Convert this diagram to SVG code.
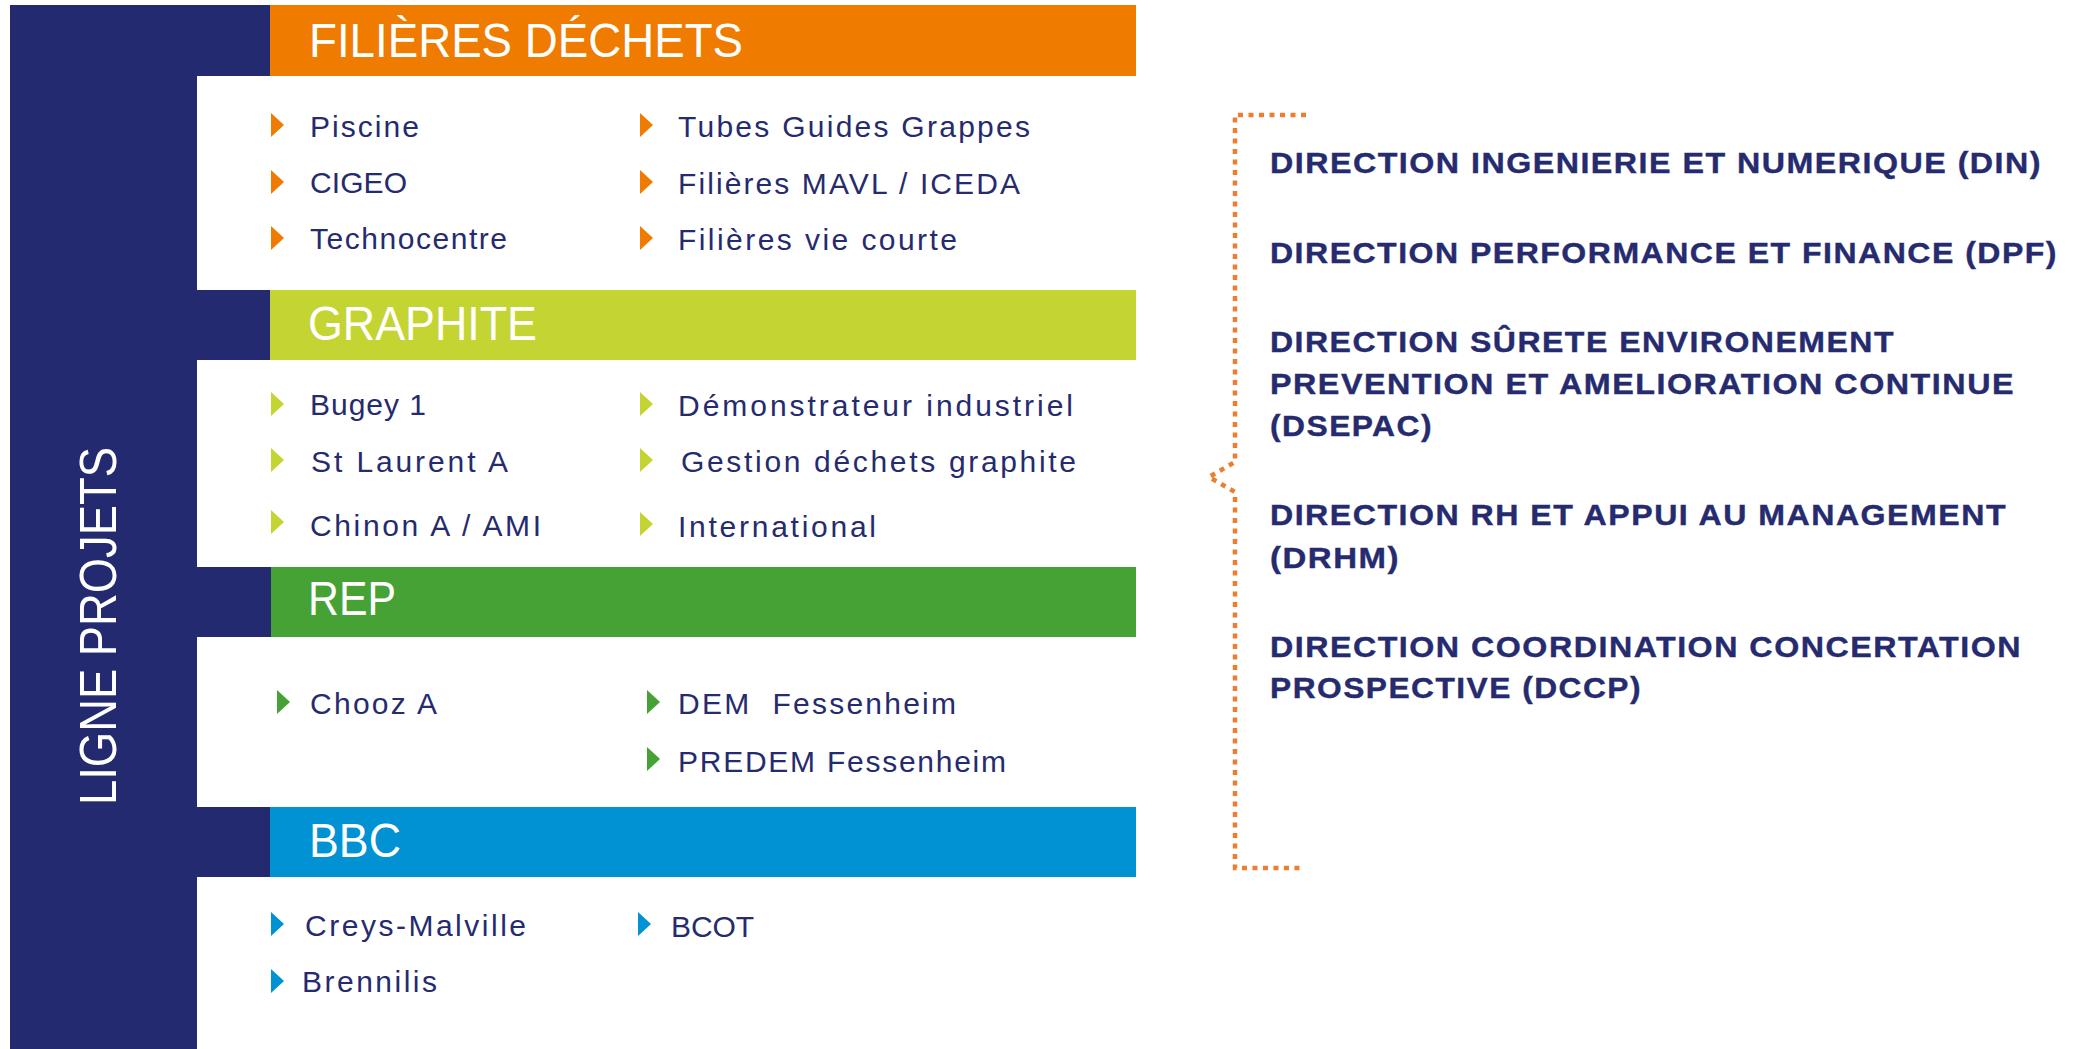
<svg xmlns="http://www.w3.org/2000/svg" xmlns:xlink="http://www.w3.org/1999/xlink" width="2075" height="1049" viewBox="0 0 2075 1049">
<defs>
<style>
.hdr{font-family:"Liberation Sans",Arial,sans-serif;font-size:48px;fill:#ffffff;}
.it{font-family:"Liberation Sans",Arial,sans-serif;font-size:30px;fill:#252B6E;}
.dir{font-family:"Liberation Sans",Arial,sans-serif;font-size:30px;font-weight:bold;letter-spacing:1.4px;fill:#252B6E;stroke:#252B6E;stroke-width:0.4;}
.side{font-family:"Liberation Sans",Arial,sans-serif;font-size:52px;fill:#ffffff;}
.bracket{fill:none;stroke:#EE7D30;stroke-width:4.5;stroke-dasharray:5 5.5;}
</style>
<path id="tri" d="M0,0 L13,12 L0,24 Z"/>
</defs>
<rect width="2075" height="1049" fill="#ffffff"/>

<g id="ligne-projets">
<rect x="10" y="5" width="187" height="1044" fill="#242A70"/>
<text class="side" transform="translate(116,805) rotate(-90)" textLength="358" lengthAdjust="spacingAndGlyphs">LIGNE PROJETS</text>
</g>

<g id="filieres-dechets">
<rect x="197" y="5" width="74" height="71" fill="#242A70"/>
<rect x="270" y="5" width="866" height="71" fill="#EF7B00"/>
<text class="hdr" x="309" y="57" textLength="434" lengthAdjust="spacingAndGlyphs">FILIÈRES DÉCHETS</text>
<g fill="#EF7B00">
<use xlink:href="#tri" x="271" y="113"/>
<use xlink:href="#tri" x="271" y="170"/>
<use xlink:href="#tri" x="271" y="226"/>
<use xlink:href="#tri" x="640" y="113"/>
<use xlink:href="#tri" x="640" y="170"/>
<use xlink:href="#tri" x="640" y="226"/>
</g>
<text class="it" x="310" y="137" textLength="109">Piscine</text>
<text class="it" x="310" y="193" textLength="97">CIGEO</text>
<text class="it" x="310" y="249" textLength="197">Technocentre</text>
<text class="it" x="678" y="137" textLength="352">Tubes Guides Grappes</text>
<text class="it" x="678" y="194" textLength="342">Filières MAVL / ICEDA</text>
<text class="it" x="678" y="250" textLength="279">Filières vie courte</text>
</g>

<g id="graphite">
<rect x="197" y="290" width="74" height="70" fill="#242A70"/>
<rect x="270" y="290" width="866" height="70" fill="#C4D433"/>
<text class="hdr" x="308" y="340" textLength="229" lengthAdjust="spacingAndGlyphs">GRAPHITE</text>
<g fill="#C4D433">
<use xlink:href="#tri" x="271" y="392"/>
<use xlink:href="#tri" x="271" y="448"/>
<use xlink:href="#tri" x="271" y="510"/>
<use xlink:href="#tri" x="640" y="392"/>
<use xlink:href="#tri" x="640" y="448"/>
<use xlink:href="#tri" x="640" y="512"/>
</g>
<text class="it" x="310" y="415" textLength="116">Bugey 1</text>
<text class="it" x="311" y="472" textLength="197">St Laurent A</text>
<text class="it" x="310" y="536" textLength="231">Chinon A / AMI</text>
<text class="it" x="678" y="416" textLength="395">Démonstrateur industriel</text>
<text class="it" x="681" y="472" textLength="395">Gestion déchets graphite</text>
<text class="it" x="678" y="537" textLength="198">International</text>
</g>

<g id="rep">
<rect x="197" y="567" width="75" height="70" fill="#242A70"/>
<rect x="271" y="567" width="865" height="70" fill="#46A235"/>
<text class="hdr" x="308" y="615" textLength="88" lengthAdjust="spacingAndGlyphs">REP</text>
<g fill="#46A235">
<use xlink:href="#tri" x="277" y="690"/>
<use xlink:href="#tri" x="647" y="690"/>
<use xlink:href="#tri" x="647" y="747"/>
</g>
<text class="it" x="310" y="714" textLength="127">Chooz A</text>
<text class="it" x="678" y="714" textLength="278" xml:space="preserve">DEM  Fessenheim</text>
<text class="it" x="678" y="772" textLength="328">PREDEM Fessenheim</text>
</g>

<g id="bbc">
<rect x="197" y="807" width="74" height="70" fill="#242A70"/>
<rect x="270" y="807" width="866" height="70" fill="#0092D2"/>
<text class="hdr" x="309" y="857" textLength="92" lengthAdjust="spacingAndGlyphs">BBC</text>
<g fill="#0092D2">
<use xlink:href="#tri" x="271" y="912"/>
<use xlink:href="#tri" x="638" y="912"/>
<use xlink:href="#tri" x="271" y="969"/>
</g>
<text class="it" x="305" y="936" textLength="221">Creys-Malville</text>
<text class="it" x="671" y="937" textLength="83">BCOT</text>
<text class="it" x="302" y="992" textLength="135">Brennilis</text>
</g>

<g id="connectors">
<path class="bracket" d="M1306,115 H1235 V462 L1209,477 L1235,492 V868 H1301"/>
</g>

<g id="directions">
<text class="dir" x="1270" y="173" textLength="772" lengthAdjust="spacingAndGlyphs">DIRECTION INGENIERIE ET NUMERIQUE (DIN)</text>
<text class="dir" x="1270" y="263" textLength="788" lengthAdjust="spacingAndGlyphs">DIRECTION PERFORMANCE ET FINANCE (DPF)</text>
<text class="dir" x="1270" y="352" textLength="625" lengthAdjust="spacingAndGlyphs">DIRECTION SÛRETE ENVIRONEMENT</text>
<text class="dir" x="1270" y="394" textLength="745" lengthAdjust="spacingAndGlyphs">PREVENTION ET AMELIORATION CONTINUE</text>
<text class="dir" x="1270" y="436" textLength="163" lengthAdjust="spacingAndGlyphs">(DSEPAC)</text>
<text class="dir" x="1270" y="525" textLength="737" lengthAdjust="spacingAndGlyphs">DIRECTION RH ET APPUI AU MANAGEMENT</text>
<text class="dir" x="1270" y="568" textLength="130" lengthAdjust="spacingAndGlyphs">(DRHM)</text>
<text class="dir" x="1270" y="657" textLength="752" lengthAdjust="spacingAndGlyphs">DIRECTION COORDINATION CONCERTATION</text>
<text class="dir" x="1270" y="698" textLength="372" lengthAdjust="spacingAndGlyphs">PROSPECTIVE (DCCP)</text>
</g>
</svg>
